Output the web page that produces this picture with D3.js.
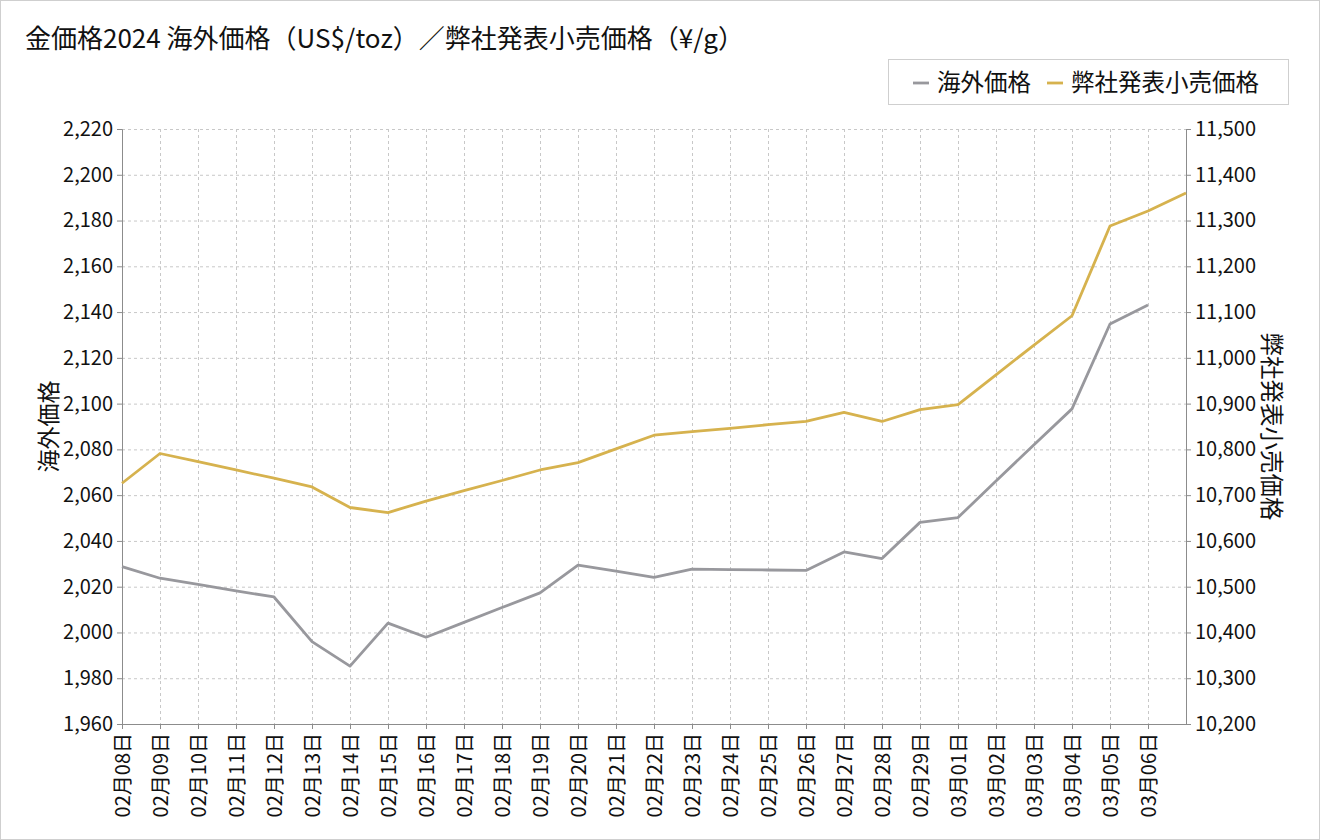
<!DOCTYPE html>
<html>
<head>
<meta charset="utf-8">
<script src="https://cdn.jsdelivr.net/npm/d3@7"></script>
<style>
  body { margin: 0; background: #fff; }
  svg { font-family: "Noto Sans CJK JP", "Noto Sans", sans-serif; display: block; }
</style>
</head>
<body>
<script>
// data
var dates = ["02月08日","02月09日","02月10日","02月11日","02月12日","02月13日","02月14日","02月15日",
  "02月16日","02月17日","02月18日","02月19日","02月20日","02月21日","02月22日","02月23日","02月24日",
  "02月25日","02月26日","02月27日","02月28日","02月29日","03月01日","03月02日","03月03日","03月04日",
  "03月05日","03月06日","03月07日"];
var overseas = [2028.8,2023.7,2021.0,2018.2,2015.5,1996.0,1985.3,2004.1,1997.9,2004.4,2010.9,2017.3,
  2029.4,2026.8,2024.1,2027.7,2027.5,2027.3,2027.1,2035.2,2032.3,2048.1,2050.2,2066.2,2082.0,2097.7,
  2134.8,2143.1,null];
var retail = [10726,10791,10773,10755,10737,10718,10673,10662,10687,10710,10732,10755,10771,10801,
  10831,10839,10846,10854,10861,10881,10861,10887,10898,10963,11028,11092,11288,11321,11360];
var leftTicks = [1960,1980,2000,2020,2040,2060,2080,2100,2120,2140,2160,2180,2200,2220];
var rightTicks = [10200,10300,10400,10500,10600,10700,10800,10900,11000,11100,11200,11300,11400,11500];

var W = 1320, H = 840;
var m = {left: 122, right: 134, top: 129, bottom: 116};
var grayC = "#98989d", goldC = "#d6b24e", axisC = "#8c8c8c";

var svg = d3.select("body").append("svg").attr("width", W).attr("height", H);

svg.append("rect").attr("x", 0.5).attr("y", 0.5).attr("width", W - 1).attr("height", H - 1)
  .attr("fill", "#fff").attr("stroke", "#cfcfcf");

var x = d3.scalePoint().domain(d3.range(dates.length)).range([m.left, W - m.right]);
var yL = d3.scaleLinear().domain([1960, 2220]).range([H - m.bottom, m.top]);
var yR = d3.scaleLinear().domain([10200, 11500]).range([H - m.bottom, m.top]);

// grid
var grid = svg.append("g");
grid.selectAll(".hg").data(leftTicks).enter().append("line")
  .attr("x1", m.left).attr("x2", W - m.right)
  .attr("y1", function(d){ return yL(d) + 0.5; }).attr("y2", function(d){ return yL(d) + 0.5; })
  .attr("stroke", "#c8c8c8").attr("stroke-dasharray", "3,3");
grid.selectAll(".vg").data(d3.range(1, dates.length - 1)).enter().append("line")
  .attr("y1", m.top).attr("y2", H - m.bottom)
  .attr("x1", function(d){ return x(d) + 0.5; }).attr("x2", function(d){ return x(d) + 0.5; })
  .attr("stroke", "#c8c8c8").attr("stroke-dasharray", "3,3");

// axes
var fmt = d3.format(",");
var gL = svg.append("g").attr("transform", "translate(" + m.left + ",0)")
  .call(d3.axisLeft(yL).tickValues(leftTicks).tickFormat(fmt).tickSize(5).tickPadding(4));
var gR = svg.append("g").attr("transform", "translate(" + (W - m.right) + ",0)")
  .call(d3.axisRight(yR).tickValues(rightTicks).tickFormat(fmt).tickSize(5).tickPadding(4));
var gX = svg.append("g").attr("transform", "translate(0," + (H - m.bottom) + ")")
  .call(d3.axisBottom(x).tickValues(d3.range(dates.length - 1))
    .tickFormat(function(i){ return dates[i]; }).tickSize(5).tickSizeOuter(0));

[gL, gR, gX].forEach(function(g){
  g.select(".domain").attr("stroke", axisC);
  g.selectAll(".tick line").attr("stroke", axisC);
  g.selectAll("text").attr("fill", "#111").style("font-size", "20px")
    .style("font-family", '"Noto Sans CJK JP", sans-serif');
});
gX.selectAll("text")
  .attr("transform", "rotate(-90)")
  .attr("text-anchor", "end")
  .attr("x", -9).attr("y", 0).attr("dy", "0.35em");

// lines
var lineL = d3.line().defined(function(d){ return d != null; })
  .x(function(d, i){ return x(i); }).y(function(d){ return yL(d); });
var lineR = d3.line().x(function(d, i){ return x(i); }).y(function(d){ return yR(d); });

svg.append("path").datum(overseas).attr("d", lineL)
  .attr("fill", "none").attr("stroke", grayC).attr("stroke-width", 2.8).attr("stroke-linejoin", "round");
svg.append("path").datum(retail).attr("d", lineR)
  .attr("fill", "none").attr("stroke", goldC).attr("stroke-width", 2.8).attr("stroke-linejoin", "round");

// title
svg.append("text").attr("x", 25).attr("y", 48)
  .style("font-size", "26px").attr("fill", "#111")
  .text("金価格2024 海外価格（US$/toz）／弊社発表小売価格（¥/g）");

// axis titles
svg.append("text")
  .attr("transform", "translate(57," + ((m.top + H - m.bottom) / 2) + ") rotate(-90)")
  .attr("text-anchor", "middle").style("font-size", "23px").attr("fill", "#111")
  .text("海外価格");
svg.append("text")
  .attr("transform", "translate(1263," + ((m.top + H - m.bottom) / 2) + ") rotate(90)")
  .attr("text-anchor", "middle").style("font-size", "23.5px").attr("fill", "#111")
  .text("弊社発表小売価格");

// legend
var leg = svg.append("g");
leg.append("rect").attr("x", 888.5).attr("y", 59.5).attr("width", 400).attr("height", 45)
  .attr("fill", "#fff").attr("stroke", "#cfcfcf");
var items = [{name: "海外価格", c: grayC, x: 913}, {name: "弊社発表小売価格", c: goldC, x: 1047}];
items.forEach(function(it){
  leg.append("line").attr("x1", it.x).attr("x2", it.x + 16).attr("y1", 83).attr("y2", 83)
    .attr("stroke", it.c).attr("stroke-width", 2.8);
  leg.append("text").attr("x", it.x + 24).attr("y", 91).style("font-size", "23.5px")
    .attr("fill", "#111").text(it.name);
});
</script>
</body>
</html>
